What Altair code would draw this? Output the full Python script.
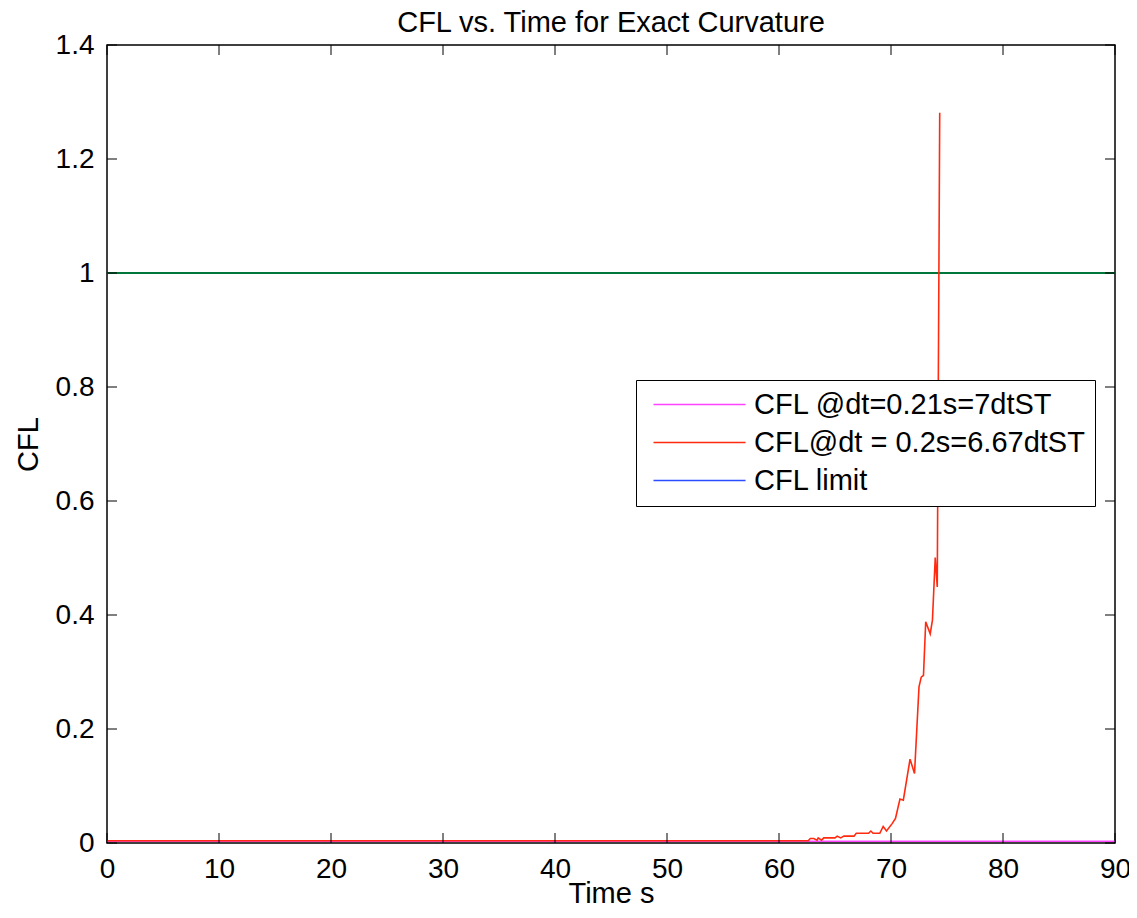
import altair as alt
import pandas as pd

# ---- data ----
t_red = [0, 10, 20, 30, 40, 50, 60, 62.6, 62.8, 63.1, 63.4, 63.5, 63.8, 64.0, 65.0, 65.2, 65.5,
         65.8, 66.7, 66.9, 68.0, 68.2, 68.4, 69.0, 69.3, 69.6, 70.1, 70.4, 70.8, 71.1,
         71.7, 72.1, 72.5, 72.7, 72.9, 73.1, 73.5, 73.7, 73.95, 74.13, 74.35]
cfl_red = [0.004, 0.004, 0.004, 0.004, 0.004, 0.004, 0.004, 0.004, 0.008, 0.008, 0.005, 0.009,
           0.005, 0.009, 0.009, 0.012, 0.009, 0.012, 0.012, 0.017, 0.017, 0.021, 0.017,
           0.017, 0.029, 0.021, 0.034, 0.043, 0.077, 0.075, 0.147, 0.122, 0.274, 0.291,
           0.294, 0.388, 0.367, 0.391, 0.501, 0.449, 1.281]
t_mag = [0, 30, 60, 90]
cfl_mag = [0.003, 0.003, 0.003, 0.003]
t_limit = [0, 90]
cfl_limit = [1, 1]

series_names = ["CFL @dt=0.21s=7dtST", "CFL@dt = 0.2s=6.67dtST", "CFL limit"]
series_colors = ["#ff44ff", "#ff2a10", "#2a4dff"]
limit_line_color = "#00773a"

x_ticks = [0, 10, 20, 30, 40, 50, 60, 70, 80, 90]
y_ticks = [0, 0.2, 0.4, 0.6, 0.8, 1.0, 1.2, 1.4]

FONT = "Liberation Sans"
W, H = 1008, 798

rows = []
for t, v in zip(t_limit, cfl_limit):
    rows.append({"t": t, "cfl": v, "series": series_names[2], "o": 0})
for t, v in zip(t_mag, cfl_mag):
    rows.append({"t": t, "cfl": v, "series": series_names[0], "o": 1})
for t, v in zip(t_red, cfl_red):
    rows.append({"t": t, "cfl": v, "series": series_names[1], "o": 2})
df = pd.DataFrame(rows)

xs = alt.Scale(domain=[0, 90], nice=False, zero=False)
ys = alt.Scale(domain=[0, 1.4], nice=False, zero=False)

xax = alt.Axis(values=x_ticks, tickSize=0, domain=False, grid=False, labelPadding=12,
               labelFontSize=28, labelFont=FONT, labelColor="black", labelFlush=False,
               title="Time s", titleFontSize=29, titleFont=FONT, titleFontWeight="normal",
               titleColor="black", titleBaseline="alphabetic", titleY=59)
yax = alt.Axis(values=y_ticks, tickSize=0, domain=False, grid=False, labelPadding=13,
               labelFontSize=28, labelFont=FONT, labelColor="black", labelFlush=False,
               format="~g",
               title="CFL", titleFontSize=29, titleFont=FONT, titleFontWeight="normal",
               titleColor="black", titleBaseline="alphabetic", titleX=-70)

legend = alt.Legend(
    title=None, orient="none", legendX=529, legendY=335,
    symbolType="M-0.636,0L7.73,0", symbolSize=484, symbolStrokeWidth=1.5,
    labelFontSize=29, labelFont=FONT, labelColor="black", labelLimit=0, labelOffset=79,
    rowPadding=8, padding=10, strokeColor="black", fillColor="white",
)

base = alt.Chart(df)
cscale = alt.Scale(domain=series_names, range=series_colors)

blue = base.transform_filter(alt.datum.series == series_names[2]).mark_line(
    strokeWidth=1.5, clip=True
).encode(
    x=alt.X("t:Q", scale=xs, axis=xax),
    y=alt.Y("cfl:Q", scale=ys, axis=yax),
    color=alt.Color("series:N", scale=cscale, legend=legend),
)

green = alt.Chart(pd.DataFrame({"t": t_limit, "cfl": cfl_limit})).mark_line(
    color=limit_line_color, strokeWidth=2
).encode(x=alt.X("t:Q", scale=xs), y=alt.Y("cfl:Q", scale=ys))

lines = base.transform_filter(alt.datum.series != series_names[2]).mark_line(
    strokeWidth=1.6, clip=True
).encode(
    x=alt.X("t:Q", scale=xs),
    y=alt.Y("cfl:Q", scale=ys),
    color=alt.Color("series:N", scale=cscale, legend=legend),
    detail="series:N",
    order="o:Q",
)

xt = pd.DataFrame({"t": x_ticks})
yt = pd.DataFrame({"cfl": y_ticks})
tick_col = "black"
xt_bottom = alt.Chart(xt).mark_rule(color=tick_col, strokeWidth=1).encode(
    x=alt.X("t:Q", scale=xs), y=alt.value(H), y2=alt.value(H - 10))
xt_top = alt.Chart(xt).mark_rule(color=tick_col, strokeWidth=1).encode(
    x=alt.X("t:Q", scale=xs), y=alt.value(0), y2=alt.value(10))
yt_left = alt.Chart(yt).mark_rule(color=tick_col, strokeWidth=1).encode(
    y=alt.Y("cfl:Q", scale=ys), x=alt.value(0), x2=alt.value(10))
yt_right = alt.Chart(yt).mark_rule(color=tick_col, strokeWidth=1).encode(
    y=alt.Y("cfl:Q", scale=ys), x=alt.value(W), x2=alt.value(W - 10))

chart = alt.layer(blue, green, lines, xt_bottom, xt_top, yt_left, yt_right).properties(
    width=W, height=H,
    title=alt.TitleParams("CFL vs. Time for Exact Curvature", fontSize=29, font=FONT,
                          fontWeight="normal", color="black", offset=0, dy=7,
                          anchor="middle"),
    autosize=alt.AutoSizeParams(type="none"),
    padding={"left": 99, "top": 37, "right": 14, "bottom": 63},
    background="white",
).configure_view(stroke="black", strokeWidth=1.5)

chart.save("out.html", embed_options={"renderer": "svg", "actions": False})
